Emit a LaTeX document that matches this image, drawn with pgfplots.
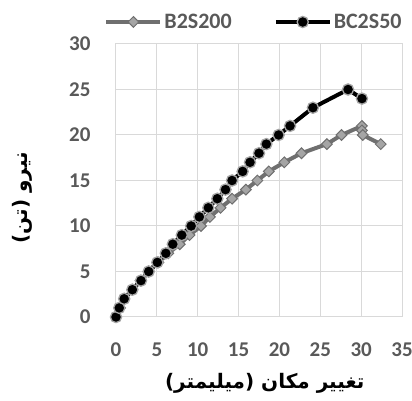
\documentclass[border=0pt]{standalone}
\usepackage{fontspec}
\setmainfont{Carlito}
\newfontfamily\arabicfont[Script=Arabic]{DejaVu Sans}
\usepackage{pgfplots}
\pgfplotsset{compat=1.18}
\TeXXeTstate=1
\definecolor{tickgray}{HTML}{595959}
\definecolor{gridgray}{HTML}{D9D9D9}
\definecolor{lineA}{HTML}{6F6F6F}
\definecolor{markA}{HTML}{A5A5A5}
\definecolor{edgeB}{HTML}{A5A5A5}
\begin{document}
\begin{tikzpicture}
\useasboundingbox (-116pt,-84pt) rectangle (296pt,317pt);
\begin{axis}[
  at={(0pt,0pt)}, anchor=south west,
  width=286pt, height=273pt, scale only axis,
  xmin=0, xmax=35, ymin=0, ymax=30,
  xtick={0,5,...,35}, ytick={0,5,...,30},
  grid=major, major grid style={draw=gridgray, line width=1pt},
  axis line style={draw=gridgray, line width=1pt},
  major tick length=0pt,
  tick label style={font=\fontsize{21}{25}\selectfont\bfseries, text=tickgray},
  /pgf/number format/assume math mode=true,
  xticklabel style={yshift=-22pt},
  yticklabel style={xshift=-22pt},
  xlabel={\arabicfont\bfseries\beginR تغییر مکان (میلیمتر)\endR},
  ylabel={\arabicfont\bfseries\beginR نیرو (تن)\endR},
  label style={font=\fontsize{20}{24}\selectfont},
  xlabel style={at={(rel axis cs:0.52,0)}, anchor=center, yshift=-66pt},
  ylabel style={at={(rel axis cs:0,0.436)}, anchor=center, yshift=94pt},
  legend columns=2,
  legend style={at={(rel axis cs:0.5,1)}, anchor=center, yshift=22pt, xshift=-5pt, draw=none, fill=none,
    font=\fontsize{22}{26}\selectfont\bfseries, text=tickgray,
    /tikz/every even column/.append style={column sep=40pt},
    cells={anchor=west}},
  legend image code/.code={\draw[mark repeat=2,mark phase=2,#1] plot coordinates {(0pt,0pt) (27pt,0pt) (54pt,0pt)};},
]
\addplot[lineA, line width=4pt, mark=square*, mark size=3.8pt,
  mark options={rotate=45, fill=markA, draw=lineA, line width=1pt}] coordinates {
(0,0) (0.5,1) (1,2) (2,3) (3,4) (4,5) (5.2,6) (6.4,7) (7.8,8) (9.0,9) (10.4,10)
(11.5,11) (12.8,12) (14.2,13) (15.9,14) (17.3,15) (18.7,16) (20.6,17) (22.7,18)
(25.8,19) (27.6,20) (30.1,21) (30.1,20.5) (30.2,20) (32.4,19)};
\addlegendentry{B2S200}
\addplot[black, line width=4pt, mark=*, mark size=5.6pt,
  mark options={fill=black, draw=edgeB, line width=1.3pt}] coordinates {
(0,0) (0.4,1) (1,2) (2,3) (3.06,4) (4,5) (5.06,6) (6.1,7) (6.95,8) (8.05,9) (9.2,10)
(10.2,11) (11.3,12) (12.4,13) (13.4,14) (14.2,15) (15.5,16) (16.4,17) (17.5,18)
(18.4,19) (19.9,20) (21.3,21) (24.1,23) (28.4,25) (30.1,24)};
\addlegendentry{BC2S50}
\end{axis}
\end{tikzpicture}
\end{document}
